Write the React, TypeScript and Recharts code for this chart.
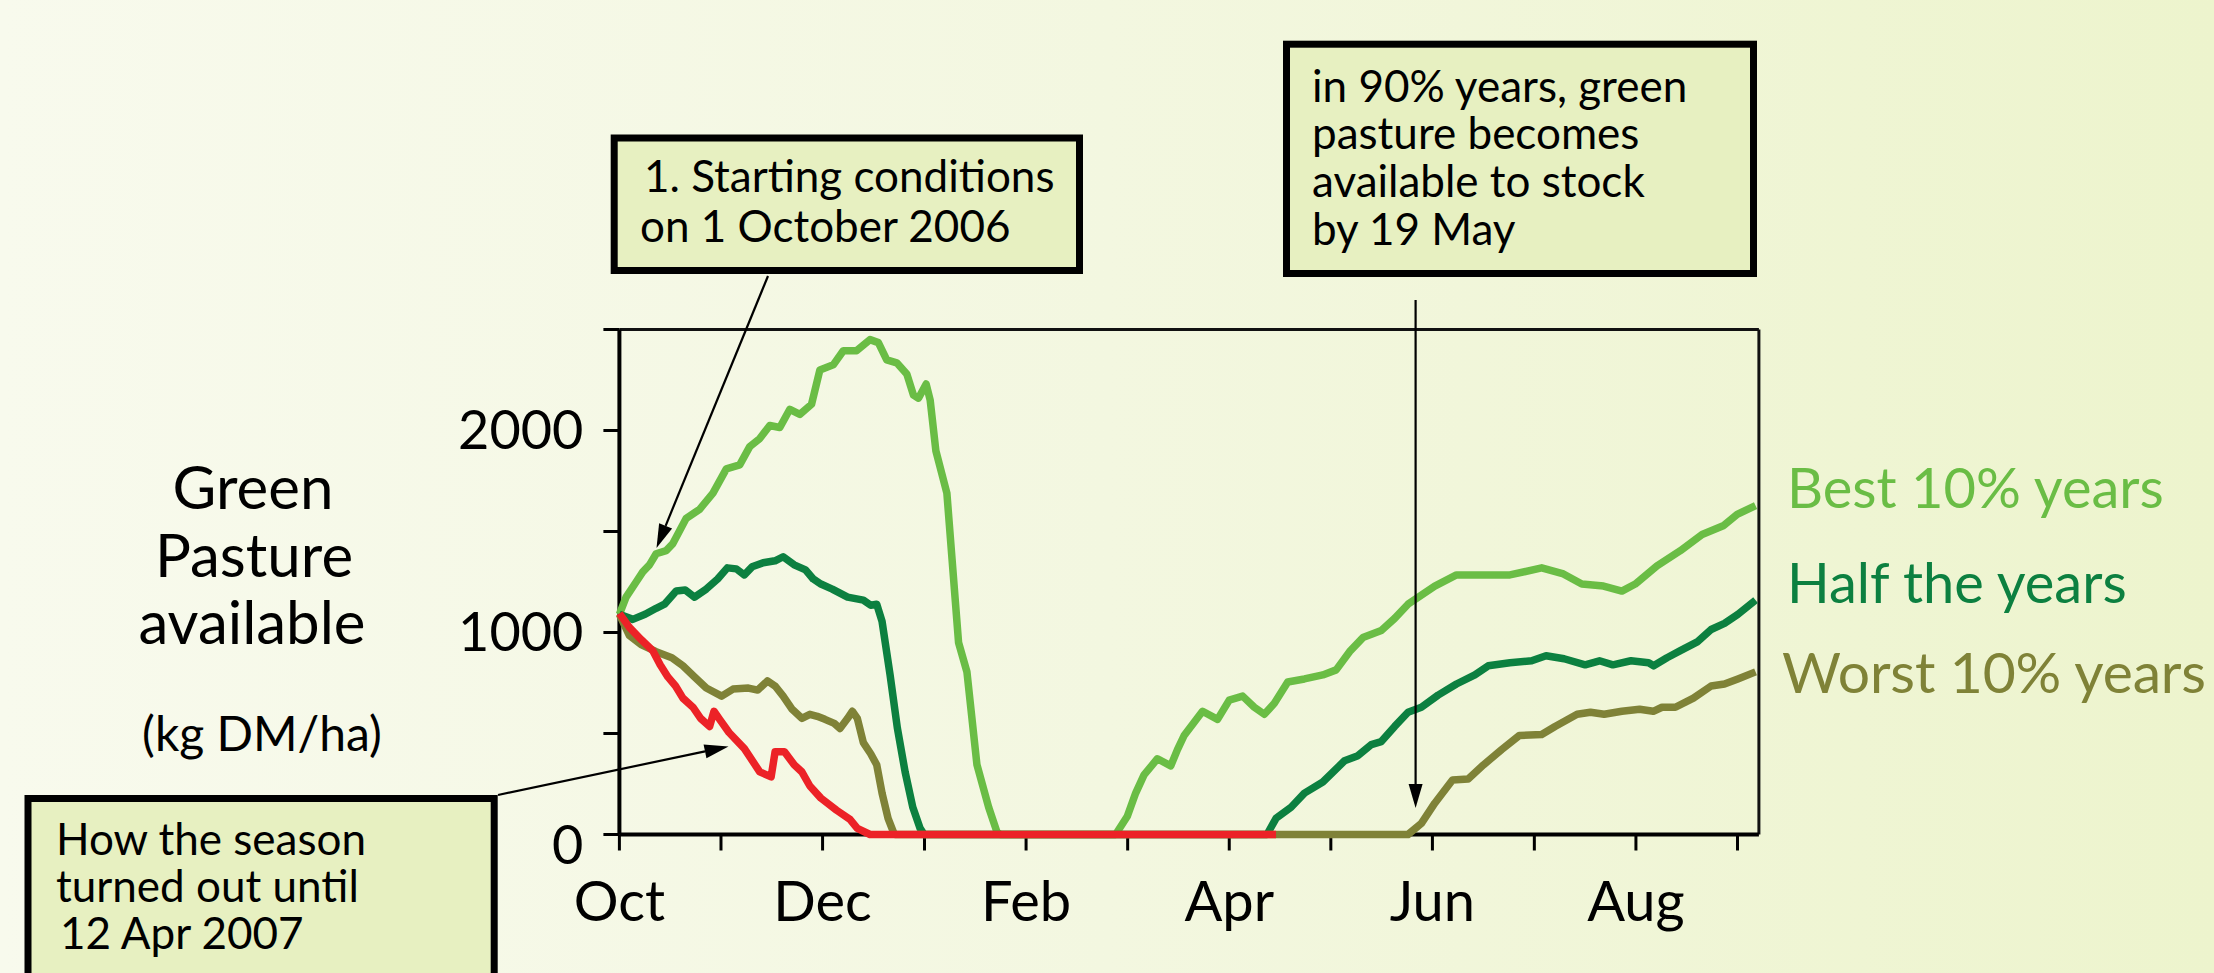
import React from 'react';
import { LineChart, Line, XAxis, YAxis, ReferenceLine } from 'recharts';

// Days since 1 October (x) and green pasture in kg DM/ha (y)
const bestSeries: [number, number][] = [
  [0, 1090], [2, 1175], [5, 1250], [7, 1300], [9, 1335], [11, 1390], [14, 1405], [16, 1440], [20, 1565],
  [24, 1610], [28, 1690], [32, 1810], [36, 1830], [39, 1920], [42, 1960], [45, 2025], [48, 2015], [51, 2105],
  [54, 2080], [57.5, 2130], [60, 2300], [64, 2325], [67, 2395], [71, 2395], [75, 2450], [77.5, 2435],
  [80, 2350], [83, 2335], [86, 2280], [88, 2175], [89.5, 2160], [91.8, 2230], [93, 2150], [94.7, 1900],
  [98, 1690], [101.5, 950], [104, 805], [107, 345], [110.5, 135], [113, 12], [114, 0], [148.5, 0],
  [152, 90], [154.5, 205], [157, 295], [161, 375], [165, 340], [167, 420], [169, 490], [174.5, 610],
  [179, 570], [182.5, 665], [186.5, 685], [190, 630], [193, 595], [196, 650], [200, 755], [205, 770],
  [210.5, 790], [214.5, 815], [218.5, 905], [222.5, 975], [228, 1010], [232, 1070], [236, 1140],
  [244, 1230], [250.5, 1285], [266.5, 1285], [276, 1320], [282.5, 1290], [288, 1240], [294.5, 1230],
  [300, 1205], [304, 1240], [310.5, 1330], [317.5, 1405], [324, 1485], [330.5, 1530], [334.5, 1585], [340, 1628],
];

const halfSeries: [number, number][] = [
  [0, 1090], [4, 1065], [7.7, 1090], [11, 1120], [13.5, 1140], [17, 1205], [19.7, 1210], [22.5, 1175],
  [26, 1215], [29.4, 1265], [32.3, 1320], [35, 1315], [37.4, 1285], [39.7, 1325], [43, 1345], [46.6, 1355],
  [49, 1375], [52.3, 1335], [55.7, 1310], [58, 1265], [60.3, 1240], [63.7, 1215], [68.3, 1175], [73, 1160],
  [75.2, 1135], [77, 1140], [78.6, 1055], [81, 790], [83.2, 525], [85.5, 310], [87.8, 135], [90, 30],
  [91.2, 0], [193.8, 0], [196.5, 80], [201, 135], [205, 205], [210.5, 260], [217, 365], [221, 390],
  [225, 445], [228, 460], [232, 535], [236, 605], [240, 630], [245, 690], [250.5, 745], [256, 790],
  [260, 835], [266.5, 850], [273, 860], [277.3, 885], [282.7, 870], [289, 840], [293.3, 860], [297.3, 840],
  [302.7, 860], [308, 850], [309.5, 835], [313.5, 875], [317.5, 910], [322.7, 955], [326.7, 1015],
  [330.7, 1045], [334.7, 1090], [340, 1160],
];

const worstSeries: [number, number][] = [
  [0, 1090], [3, 985], [6.5, 940], [11, 905], [15.7, 875], [19, 835], [22.5, 780], [26, 725], [30.6, 685],
  [34, 720], [38.6, 725], [41.4, 715], [44.3, 760], [46.6, 735], [49, 685], [51.7, 620], [54.6, 575],
  [57, 595], [59.2, 585], [61.5, 570], [64.3, 550], [66, 525], [68.3, 575], [69.7, 610], [71.2, 575],
  [73, 455], [75.2, 400], [77, 345], [78.6, 205], [80.4, 80], [82, 12], [82.6, 0], [236, 0], [240, 55],
  [244, 155], [249.3, 270], [254, 275], [258.6, 345], [264, 420], [269.3, 490], [276, 495], [280, 535],
  [286.6, 595], [290.6, 605], [294.7, 595], [300, 610], [305.3, 620], [309.4, 610], [312, 630], [316, 630],
  [321.4, 675], [326.7, 735], [330.7, 745], [334.7, 770], [340, 805],
];

const seasonSeries: [number, number][] = [
  [0, 1095], [3, 1025], [6.5, 965], [10, 910], [12.2, 840], [14.5, 780], [16.8, 735], [19, 675], [22, 630],
  [24.3, 575], [27, 535], [28.3, 610], [30, 570], [32.8, 505], [37.4, 425], [42, 310], [45.4, 285],
  [46.6, 410], [49.4, 410], [52.3, 345], [54.6, 310], [57, 240], [60.3, 180], [65, 120], [69, 75],
  [71.2, 30], [75, 0], [196.5, 0],
];

const monthTicks = [0, 30.4, 60.8, 91.3, 121.7, 152.1, 182.5, 212.9, 243.3, 273.8, 304.2, 334.6];
const monthLabels = ['Oct', '', 'Dec', '', 'Feb', '', 'Apr', '', 'Jun', '', 'Aug', ''];
const valueTicks = [0, 500, 1000, 1500, 2000, 2500];
const valueLabels = ['0', '', '1000', '', '2000', ''];

const series = [
  { key: 'best', label: 'Best 10% years', data: bestSeries, color: '#6abd45' },
  { key: 'half', label: 'Half the years', data: halfSeries, color: '#0c8040' },
  { key: 'worst', label: 'Worst 10% years', data: worstSeries, color: '#7f8237' },
  { key: 'season', label: 'How the season turned out', data: seasonSeries, color: '#ec2227' },
];

function buildTable() {
  const rows = new Map<number, any>();
  series.forEach((s) =>
    s.data.forEach(([d, v]) => {
      const r = rows.get(d) || { day: d };
      r[s.key] = v;
      rows.set(d, r);
    })
  );
  return Array.from(rows.values()).sort((a, b) => a.day - b.day);
}

const FONT = 'Lato, "Open Sans", sans-serif';

const YTick = (props: any) => {
  const { x, y, payload } = props;
  const i = valueTicks.indexOf(payload.value);
  const label = i >= 0 ? valueLabels[i] : '';
  return (
    <text x={x} y={y} dy={payload.value === 0 ? 29 : 18} textAnchor="end" fontSize={54} fontFamily={FONT} fill="#000">
      {label}
    </text>
  );
};

const XTick = (props: any) => {
  const { x, y, payload } = props;
  const i = monthTicks.indexOf(payload.value);
  const label = i >= 0 ? monthLabels[i] : '';
  return (
    <text x={x} y={y} dy={70} textAnchor="middle" fontSize={56} fontFamily={FONT} fill="#000">
      {label}
    </text>
  );
};

function Arrow({ x1, y1, x2, y2 }: { x1: number; y1: number; x2: number; y2: number }) {
  const dx = x2 - x1;
  const dy = y2 - y1;
  const len = Math.sqrt(dx * dx + dy * dy);
  const ux = dx / len;
  const uy = dy / len;
  const hl = 24;
  const hw = 7;
  const bx = x2 - ux * hl;
  const by = y2 - uy * hl;
  const pts = `${x2},${y2} ${bx - uy * hw},${by + ux * hw} ${bx + uy * hw},${by - ux * hw}`;
  return (
    <g>
      <line x1={x1} y1={y1} x2={bx} y2={by} stroke="#000" strokeWidth={2.2} />
      <polygon points={pts} fill="#000" />
    </g>
  );
}

const boxFill = '#e7f0c1';

export default function App() {
  const table = buildTable();
  return (
    <div
      style={{
        position: 'absolute',
        left: 0,
        top: 0,
        width: 2214,
        height: 973,
        overflow: 'hidden',
        background: 'linear-gradient(90deg, #f8faed 0%, #f3f7e0 50%, #edf4cd 100%)',
        fontFamily: FONT,
      }}
    >
      <LineChart
        width={2214}
        height={973}
        data={table}
        margin={{ top: 329.5, right: 455.1, bottom: 78.5, left: 519.4 }}
      >
        <XAxis
          type="number"
          dataKey="day"
          domain={[0, 341]}
          ticks={monthTicks}
          interval={0}
          height={60}
          tickSize={16}
          tickMargin={0}
          tick={<XTick />}
          axisLine={{ stroke: '#000', strokeWidth: 4 }}
          tickLine={{ stroke: '#000', strokeWidth: 3 }}
        />
        <YAxis
          type="number"
          domain={[0, 2500]}
          ticks={valueTicks}
          interval={0}
          width={100}
          tickSize={16}
          tickMargin={20}
          tick={<YTick />}
          axisLine={{ stroke: '#000', strokeWidth: 4 }}
          tickLine={{ stroke: '#000', strokeWidth: 3 }}
        />
        <ReferenceLine y={2500} stroke="#111" strokeWidth={3} />
        <ReferenceLine x={341} stroke="#111" strokeWidth={3} />
        {series.map((s, i) => (
          <Line
            key={s.key}
            type="linear"
            dataKey={s.key}
            stroke={s.color}
            strokeWidth={7.5}
            strokeLinejoin="round"
            strokeLinecap="butt"
            dot={false}
            activeDot={false}
            connectNulls
            isAnimationActive={false}
            {...({ zIndex: 600 + i } as any)}
          />
        ))}
      </LineChart>

      <svg
        width={2214}
        height={973}
        style={{ position: 'absolute', left: 0, top: 0, pointerEvents: 'none' }}
        fontFamily={FONT}
      >
        {/* axis title */}
        <g fill="#000" textAnchor="middle">
          <text x={253} y={509} fontSize={60}>Green</text>
          <text x={254} y={577} fontSize={60}>Pasture</text>
          <text x={252} y={644} fontSize={60}>available</text>
          <text x={262} y={751} fontSize={48}>(kg DM/ha)</text>
        </g>

        {/* series labels */}
        <text x={1787} y={508} fontSize={56} fill={series[0].color}>{series[0].label}</text>
        <text x={1787} y={603} fontSize={56} fill={series[1].color}>{series[1].label}</text>
        <text x={1782} y={693} fontSize={57} fill={series[2].color} textLength={424} lengthAdjust="spacing">
          {series[2].label}
        </text>

        {/* arrows */}
        <Arrow x1={768} y1={276} x2={656.5} y2={548} />
        <Arrow x1={498} y1={795} x2={728.5} y2={746.4} />
        <Arrow x1={1415.6} y1={300} x2={1415.6} y2={808} />

        {/* boxes */}
        <rect x={614.2} y={138} width={465.3} height={132.5} fill={boxFill} stroke="#000" strokeWidth={7} />
        <text x={644} y={192} fontSize={44} fill="#000">1. Starting conditions</text>
        <text x={640} y={242} fontSize={44} fill="#000">on 1 October 2006</text>

        <rect x={1286.5} y={44.2} width={467} height={229.3} fill={boxFill} stroke="#000" strokeWidth={7} />
        <text x={1312} y={102} fontSize={44} fill="#000">in 90% years, green</text>
        <text x={1312} y={149} fontSize={44} fill="#000">pasture becomes</text>
        <text x={1312} y={197} fontSize={44} fill="#000">available to stock</text>
        <text x={1312} y={245} fontSize={44} fill="#000">by 19 May</text>

        <rect x={28} y={798.5} width={466.2} height={200} fill={boxFill} stroke="#000" strokeWidth={7} />
        <text x={56} y={855} fontSize={44} fill="#000">How the season</text>
        <text x={56} y={902} fontSize={44} fill="#000">turned out until</text>
        <text x={60} y={949} fontSize={44} fill="#000">12 Apr 2007</text>
      </svg>
    </div>
  );
}
